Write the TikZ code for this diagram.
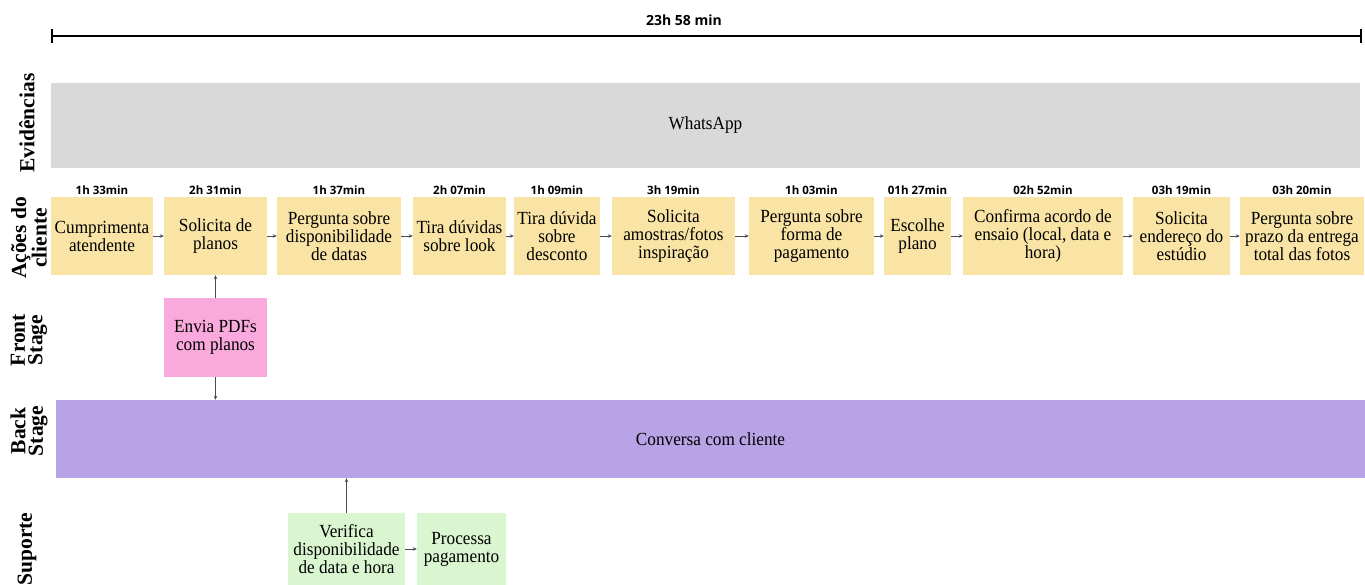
\documentclass[tikz,border=0pt]{standalone}
\usepackage{fontspec}
\setmainfont{Liberation Serif}[FakeStretch=0.93]
\newfontfamily\lanefont{Liberation Serif}
\newfontfamily\timefont{Open Sans}
\usepackage{tikz}
\usetikzlibrary{arrows.meta, positioning}
\definecolor{LaneGray}{HTML}{D9D9D9}
\definecolor{SandYellow}{HTML}{F9E4A6}
\definecolor{SoftPink}{HTML}{F9A9DC}
\definecolor{Lavender}{HTML}{B8A3E7}
\definecolor{Mint}{HTML}{D9F6D0}
\definecolor{ArrowGray}{HTML}{4A4A4A}

\begin{document}
\begin{tikzpicture}[x=1pt, y=1pt,
        band/.style={minimum width=1309pt, inner sep=0pt,
                    font=\fontsize{18.5}{18}\selectfont},
        box/.style={fill=SandYellow, minimum height=78pt, inner sep=1pt,
                    align=center, font=\fontsize{18.5}{18}\selectfont},
        lane/.style={rotate=90, align=center, inner sep=0pt,
                    font=\lanefont\bfseries\fontsize{21.5}{17.5}\selectfont},
        timelbl/.style={inner sep=0pt, font=\timefont\bfseries\fontsize{11.5}{12}\selectfont},
        arr/.style={draw=ArrowGray, line width=0.8pt,
                    -{Stealth[length=4pt, width=3.5pt]}}]

        \useasboundingbox (0,0) rectangle (1365,-585);

        % Total time line
        \node[timelbl, font=\timefont\bfseries\fontsize{14}{14}\selectfont] (total) at (684,-20) {23h 58 min};
        \coordinate (tstart) at (51,-36);
        \coordinate (tend)   at (1362,-36);
        \draw[line width=2pt, {Bar[width=14pt]}-{Bar[width=14pt]}] (tstart) -- (tend);

        % Lane titles
        \node[lane] (lev)    at (27,-123)  {Evidências};
        \node[lane] (lacao)  at (29,-238)  {Ações do\\cliente};
        \node[lane] (lfront) at (29,-340)  {Front\\Stage};
        \node[lane] (lback)  at (29,-431)  {Back\\Stage};
        \node[lane] (lsup)   at (27,-549)  {Suporte};

        % Bands
        \node[band, fill=LaneGray, minimum height=85pt] (ev) at (705.5,-125.5) {WhatsApp};
        \node[band, fill=Lavender, minimum height=78pt] (bs) at (710.5,-439)   {Conversa com cliente};

        % Client actions
        \node[box, minimum width=102pt] (b1)  at (102,-236)    {Cumprimenta\\atendente};
        \node[box, minimum width=103pt] (b2)  at (215.5,-236)  {Solicita de\\planos};
        \node[box, minimum width=124pt] (b3)  at (339,-236)    {Pergunta sobre\\disponibilidade\\de datas};
        \node[box, minimum width=93pt]  (b4)  at (459.5,-236)  {Tira dúvidas\\sobre look};
        \node[box, minimum width=86pt]  (b5)  at (557,-236)    {Tira dúvida\\sobre\\desconto};
        \node[box, minimum width=123pt] (b6)  at (673.5,-236)  {Solicita\\amostras/fotos\\inspiração};
        \node[box, minimum width=125pt] (b7)  at (811.5,-236)  {Pergunta sobre\\forma de\\pagamento};
        \node[box, minimum width=67pt]  (b8)  at (917.5,-236)  {Escolhe\\plano};
        \node[box, minimum width=160pt] (b9)  at (1043,-236)   {Confirma acordo de\\ensaio (local, data e\\hora)};
        \node[box, minimum width=97pt]  (b10) at (1181.5,-236) {Solicita\\endereço do\\estúdio};
        \node[box, minimum width=124pt] (b11) at (1302,-236)   {Pergunta sobre\\prazo da entrega\\total das fotos};

        % Durations
        \node[timelbl, above=2pt of b1]  (t1)  {1h 33min};
        \node[timelbl, above=2pt of b2]  (t2)  {2h 31min};
        \node[timelbl, above=2pt of b3]  (t3)  {1h 37min};
        \node[timelbl, above=2pt of b4]  (t4)  {2h 07min};
        \node[timelbl, above=2pt of b5]  (t5)  {1h 09min};
        \node[timelbl, above=2pt of b6]  (t6)  {3h 19min};
        \node[timelbl, above=2pt of b7]  (t7)  {1h 03min};
        \node[timelbl, above=2pt of b8]  (t8)  {01h 27min};
        \node[timelbl, above=2pt of b9]  (t9)  {02h 52min};
        \node[timelbl, above=2pt of b10] (t10) {03h 19min};
        \node[timelbl, above=2pt of b11] (t11) {03h 20min};

        % Front stage and support
        \node[box, fill=SoftPink, minimum width=103pt, minimum height=79pt] (fs) at (215.5,-337.5) {Envia PDFs\\com planos};
        \node[box, fill=Mint, minimum width=117pt, minimum height=72pt] (v1) at (346.5,-549) {Verifica\\disponibilidade\\de data e hora};
        \node[box, fill=Mint, minimum width=89pt, minimum height=72pt]  (v2) at (461.5,-549) {Processa\\pagamento};

        % Arrows
        \draw[arr] (b1.east) -- (b2.west);
        \draw[arr] (b2.east) -- (b3.west);
        \draw[arr] (b3.east) -- (b4.west);
        \draw[arr] (b4.east) -- (b5.west);
        \draw[arr] (b5.east) -- (b6.west);
        \draw[arr] (b6.east) -- (b7.west);
        \draw[arr] (b7.east) -- (b8.west);
        \draw[arr] (b8.east) -- (b9.west);
        \draw[arr] (b9.east) -- (b10.west);
        \draw[arr] (b10.east) -- (b11.west);
        \draw[arr] (fs.north) -- (b2.south);
        \draw[arr] (fs.south) -- (fs.south |- bs.north);
        \draw[arr] (v1.north) -- (v1.north |- bs.south);
        \draw[arr] (v1.east) -- (v2.west);
      \end{tikzpicture}
\end{document}
